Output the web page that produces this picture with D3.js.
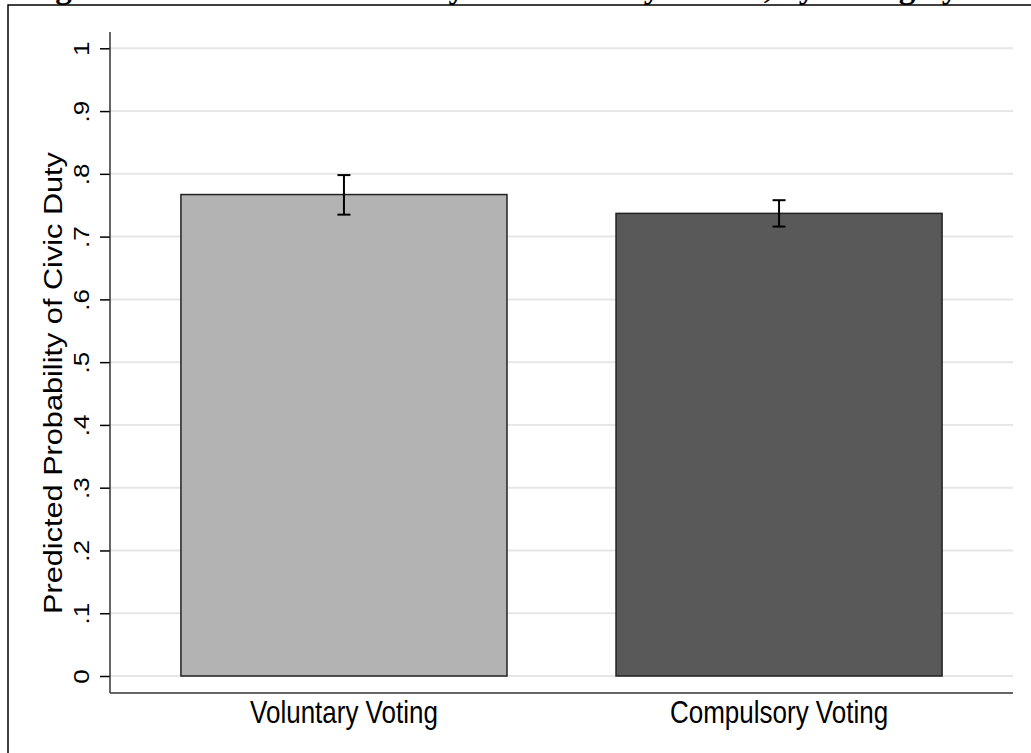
<!DOCTYPE html>
<html>
<head>
<meta charset="utf-8">
<script src="https://cdn.jsdelivr.net/npm/d3@7"></script>
<style>
  body { margin: 0; background: #fff; }
  svg { display: block; }
</style>
</head>
<body>
<div id="chart"></div>
<script>
// chart values
const categories = ["Voluntary Voting", "Compulsory Voting"];
const estimates = [0.767, 0.737];
const ciLow = [0.735, 0.716];
const ciHigh = [0.798, 0.758];
const barColors = ["#b3b3b3", "#595959"];
const yTicks = [0, 0.1, 0.2, 0.3, 0.4, 0.5, 0.6, 0.7, 0.8, 0.9, 1];
const titleText = "Figure 2: Predicted Probability of Civic Duty Norms, by Voting System";
const yTitle = "Predicted Probability of Civic Duty";

const width = 1031;
const height = 753;
// the original export is a little taller than wide, so text gets stretched
const stretch = 1.18;

const svg = d3.select("#chart")
    .append("svg")
    .attr("width", width)
    .attr("height", height);

// title, mostly cut off at the top edge
svg.append("text")
    .attr("x", 26)
    .attr("y", -2)
    .style("font-family", "'Liberation Serif', 'Times New Roman', serif")
    .style("font-weight", "bold")
    .style("font-size", "33px")
    .text(titleText);

// outer frame (left and top)
svg.append("path")
    .attr("d", `M8,${height} L8,5 L${width},5`)
    .attr("fill", "none")
    .attr("stroke", "#000")
    .attr("stroke-width", 1.5);

const plotLeft = 110, plotRight = 1013, plotTop = 32, plotBottom = 693;

const y = d3.scaleLinear()
    .domain([0, 1])
    .range([676, 48.3]);

const x = d3.scaleBand()
    .domain(categories)
    .range([plotLeft, plotRight])
    .paddingInner(0.2506)
    .paddingOuter(0.163);

// gridlines
svg.append("g")
    .selectAll("line")
    .data(yTicks)
    .enter()
    .append("line")
    .attr("x1", plotLeft)
    .attr("x2", plotRight)
    .attr("y1", d => y(d))
    .attr("y2", d => y(d))
    .attr("stroke", "#e6e6e6")
    .attr("stroke-width", 2);

// bars
svg.append("g")
    .selectAll("rect")
    .data(categories)
    .enter()
    .append("rect")
    .attr("x", d => x(d))
    .attr("y", (d, i) => y(estimates[i]))
    .attr("width", x.bandwidth())
    .attr("height", (d, i) => y(0) - y(estimates[i]))
    .attr("fill", (d, i) => barColors[i])
    .attr("stroke", "#222")
    .attr("stroke-width", 1.5);

// error bars
const err = svg.append("g")
    .selectAll("g")
    .data(categories)
    .enter()
    .append("g")
    .attr("stroke", "#000")
    .attr("stroke-width", 2);

err.append("line")
    .attr("x1", d => x(d) + x.bandwidth() / 2)
    .attr("x2", d => x(d) + x.bandwidth() / 2)
    .attr("y1", (d, i) => y(ciLow[i]))
    .attr("y2", (d, i) => y(ciHigh[i]));

[ciLow, ciHigh].forEach(arr => {
    err.append("line")
        .attr("x1", d => x(d) + x.bandwidth() / 2 - 6.5)
        .attr("x2", d => x(d) + x.bandwidth() / 2 + 6.5)
        .attr("y1", (d, i) => y(arr[i]))
        .attr("y2", (d, i) => y(arr[i]));
});

// y axis
const fmt = d => (d === 0 ? "0" : d === 1 ? "1" : d3.format(".1f")(d).replace(/^0/, ""));

const yAxis = svg.append("g")
    .attr("transform", `translate(${plotLeft},0)`)
    .call(d3.axisLeft(y).tickValues(yTicks).tickSize(10).tickFormat(fmt));

yAxis.select(".domain").remove();
yAxis.selectAll(".tick line").attr("stroke", "#000").attr("stroke-width", 1.5);
yAxis.selectAll(".tick text")
    .attr("x", null)
    .attr("dy", null)
    .attr("text-anchor", "middle")
    .attr("transform", `translate(-21,0) scale(1,${stretch}) rotate(-90)`)
    .style("font-family", "'Liberation Sans', Arial, sans-serif")
    .style("font-size", "22px")
    .style("fill", "#000");

// axis lines
svg.append("line")
    .attr("x1", plotLeft).attr("x2", plotLeft)
    .attr("y1", plotTop).attr("y2", plotBottom)
    .attr("stroke", "#333").attr("stroke-width", 1.5);
svg.append("line")
    .attr("x1", plotLeft).attr("x2", plotRight)
    .attr("y1", plotBottom).attr("y2", plotBottom)
    .attr("stroke", "#333").attr("stroke-width", 1.5);

// x labels
svg.append("g")
    .selectAll("text")
    .data(categories)
    .enter()
    .append("text")
    .attr("transform", d => `translate(${x(d) + x.bandwidth() / 2},723) scale(1,${stretch})`)
    .attr("text-anchor", "middle")
    .style("font-family", "'Liberation Sans', Arial, sans-serif")
    .style("font-size", "26px")
    .text(d => d);

// y title
svg.append("text")
    .attr("transform", `translate(62,383) scale(1,${stretch}) rotate(-90)`)
    .attr("text-anchor", "middle")
    .style("font-family", "'Liberation Sans', Arial, sans-serif")
    .style("font-size", "26px")
    .text(yTitle);
</script>
</body>
</html>
